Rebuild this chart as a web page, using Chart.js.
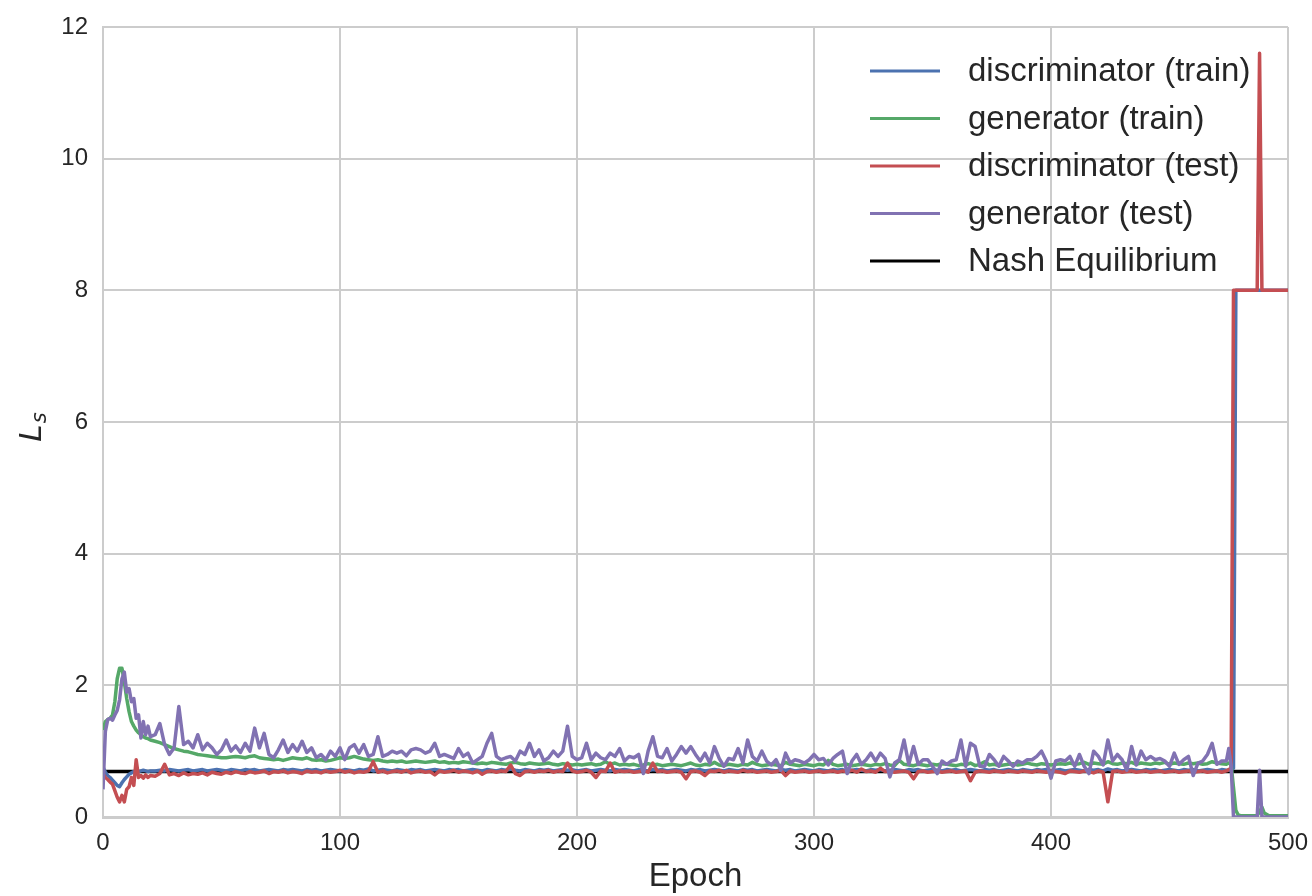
<!DOCTYPE html>
<html>
<head>
<meta charset="utf-8">
<title>GAN losses</title>
<script src="https://cdn.jsdelivr.net/npm/chart.js@4.4.1/dist/chart.umd.min.js"></script>
<style>
  html, body { margin: 0; padding: 0; background: #ffffff; }
  #wrap { width: 1312px; height: 896px; position: relative; }
</style>
</head>
<body>
<div id="wrap"><canvas id="grafico"></canvas></div>
<script>
// --- epochs (x) : head every epoch, body every 2 epochs, tail around the collapse ---
const epochsHead = [0,1,2,3,4,5,6,7,8,9,10,11,12,13,14,15,16,17,18,19,20];
const epochsBody = [
  22,24,26,28,30,32,34,36,38,40,
  42,44,46,48,50,52,54,56,58,60,
  62,64,66,68,70,72,74,76,78,80,
  82,84,86,88,90,92,94,96,98,100,
  102,104,106,108,110,112,114,116,118,120,
  122,124,126,128,130,132,134,136,138,140,
  142,144,146,148,150,152,154,156,158,160,
  162,164,166,168,170,172,174,176,178,180,
  182,184,186,188,190,192,194,196,198,200,
  202,204,206,208,210,212,214,216,218,220,
  222,224,226,228,230,232,234,236,238,240,
  242,244,246,248,250,252,254,256,258,260,
  262,264,266,268,270,272,274,276,278,280,
  282,284,286,288,290,292,294,296,298,300,
  302,304,306,308,310,312,314,316,318,320,
  322,324,326,328,330,332,334,336,338,340,
  342,344,346,348,350,352,354,356,358,360,
  362,364,366,368,370,372,374,376,378,380,
  382,384,386,388,390,392,394,396,398,400,
  402,404,406,408,410,412,414,416,418,420,
  422,424,426,428,430,432,434,436,438,440,
  442,444,446,448,450,452,454,456,458,460,
  462,464,466,468,470,472,474
];
const epochsTail = [475,476,477,478,479,480,482,484,486,487,488,489,490,492,494,496,498,500];

// discriminator (train)
const discTrainHead = [0.76,0.68,0.63,0.6,0.56,0.52,0.48,0.46,0.52,0.57,0.61,0.65,0.67,0.69,0.7,0.69,0.7,0.71,0.7,0.69,0.7];
const discTrainBody = [
  0.7,0.71,0.7,0.72,0.71,0.7,0.71,0.72,0.7,0.71,
  0.72,0.7,0.71,0.72,0.71,0.7,0.72,0.71,0.7,0.72,
  0.71,0.72,0.7,0.71,0.72,0.71,0.7,0.72,0.71,0.72,
  0.71,0.7,0.72,0.71,0.72,0.7,0.71,0.72,0.71,0.7,
  0.72,0.71,0.7,0.72,0.71,0.73,0.7,0.71,0.72,0.71,
  0.7,0.72,0.71,0.7,0.72,0.71,0.72,0.7,0.71,0.72,
  0.71,0.7,0.72,0.71,0.72,0.7,0.71,0.72,0.71,0.7,
  0.72,0.71,0.7,0.72,0.71,0.73,0.71,0.7,0.72,0.71,
  0.7,0.72,0.71,0.72,0.7,0.71,0.72,0.71,0.72,0.7,
  0.71,0.72,0.7,0.71,0.72,0.71,0.7,0.72,0.71,0.72,
  0.71,0.7,0.72,0.71,0.7,0.72,0.71,0.72,0.7,0.71,
  0.72,0.71,0.7,0.72,0.71,0.72,0.7,0.71,0.72,0.71,
  0.7,0.72,0.71,0.7,0.72,0.71,0.72,0.7,0.71,0.72,
  0.71,0.7,0.72,0.71,0.72,0.7,0.71,0.72,0.71,0.7,
  0.72,0.71,0.7,0.72,0.71,0.72,0.7,0.71,0.72,0.71,
  0.7,0.72,0.71,0.72,0.7,0.71,0.72,0.71,0.7,0.72,
  0.71,0.72,0.7,0.71,0.72,0.71,0.7,0.72,0.71,0.72,
  0.7,0.71,0.72,0.71,0.7,0.72,0.71,0.72,0.7,0.71,
  0.72,0.71,0.7,0.72,0.71,0.7,0.72,0.71,0.72,0.7,
  0.71,0.72,0.7,0.71,0.72,0.71,0.7,0.72,0.71,0.72,
  0.7,0.73,0.71,0.72,0.7,0.71,0.72,0.71,0.7,0.72,
  0.71,0.72,0.7,0.71,0.72,0.71,0.7,0.72,0.71,0.72,
  0.7,0.71,0.72,0.71,0.7,0.72,0.71
];
const discTrainTail = [0.71,0.72,0.74,8,8,8,8,8,8,8,8,8,8,8,8,8,8,8];

// generator (train)
const genTrainHead = [1.32,1.45,1.48,1.5,1.55,1.75,2.1,2.26,2.26,2.05,1.8,1.6,1.45,1.38,1.32,1.28,1.25,1.22,1.2,1.19,1.17];
const genTrainBody = [
  1.15,1.13,1.1,1.07,1.04,1.02,1.0,0.99,0.97,0.95,
  0.94,0.93,0.92,0.91,0.9,0.9,0.91,0.92,0.91,0.9,
  0.92,0.93,0.9,0.89,0.88,0.87,0.88,0.86,0.88,0.9,
  0.89,0.88,0.9,0.87,0.86,0.87,0.85,0.86,0.88,0.9,
  0.89,0.9,0.92,0.9,0.88,0.87,0.86,0.87,0.85,0.84,
  0.85,0.84,0.85,0.83,0.84,0.85,0.84,0.83,0.84,0.85,
  0.83,0.84,0.82,0.83,0.82,0.84,0.83,0.82,0.81,0.82,
  0.81,0.83,0.82,0.81,0.8,0.82,0.83,0.81,0.8,0.82,
  0.81,0.8,0.81,0.82,0.8,0.79,0.81,0.8,0.79,0.8,
  0.79,0.8,0.81,0.79,0.8,0.84,0.8,0.82,0.79,0.8,
  0.79,0.8,0.78,0.79,0.81,0.79,0.8,0.78,0.79,0.8,
  0.79,0.78,0.8,0.82,0.79,0.78,0.8,0.79,0.83,0.79,
  0.78,0.8,0.79,0.78,0.8,0.79,0.83,0.8,0.78,0.79,
  0.8,0.79,0.78,0.83,0.8,0.79,0.78,0.8,0.79,0.78,
  0.8,0.79,0.86,0.8,0.78,0.79,0.8,0.78,0.79,0.8,
  0.79,0.78,0.8,0.79,0.81,0.79,0.78,0.86,0.8,0.79,
  0.78,0.8,0.79,0.78,0.8,0.79,0.81,0.8,0.79,0.78,
  0.8,0.79,0.82,0.78,0.8,0.84,0.79,0.8,0.78,0.79,
  0.8,0.81,0.79,0.8,0.82,0.8,0.79,0.81,0.8,0.79,
  0.8,0.81,0.8,0.82,0.8,0.81,0.83,0.8,0.82,0.81,
  0.8,0.84,0.81,0.8,0.82,0.81,0.83,0.8,0.82,0.81,
  0.8,0.82,0.81,0.83,0.8,0.82,0.81,0.8,0.82,0.81,
  0.82,0.8,0.81,0.84,0.82,0.81,0.8
];
const genTrainTail = [0.82,0.8,0.45,0.1,0.03,0.02,0.02,0.02,0.02,0.02,0.08,0.15,0.06,0.02,0.02,0.02,0.02,0.02];

// discriminator (test)
const discTestHead = [0.66,0.6,0.57,0.53,0.5,0.4,0.3,0.23,0.33,0.23,0.42,0.46,0.6,0.48,0.87,0.6,0.63,0.59,0.64,0.6,0.63];
const discTestBody = [
  0.62,0.66,0.8,0.64,0.66,0.63,0.67,0.64,0.66,0.65,
  0.67,0.64,0.68,0.66,0.65,0.68,0.66,0.69,0.67,0.66,
  0.69,0.67,0.68,0.7,0.66,0.69,0.68,0.7,0.67,0.69,
  0.68,0.66,0.7,0.68,0.69,0.67,0.7,0.68,0.69,0.71,
  0.68,0.7,0.67,0.69,0.68,0.7,0.84,0.68,0.7,0.67,
  0.69,0.7,0.68,0.71,0.67,0.69,0.7,0.68,0.69,0.64,
  0.7,0.68,0.69,0.71,0.68,0.7,0.69,0.67,0.7,0.65,
  0.69,0.7,0.68,0.7,0.69,0.79,0.66,0.63,0.69,0.7,
  0.68,0.7,0.69,0.71,0.68,0.7,0.69,0.82,0.7,0.68,
  0.69,0.71,0.68,0.6,0.7,0.69,0.82,0.68,0.7,0.69,
  0.7,0.68,0.69,0.71,0.68,0.82,0.69,0.7,0.68,0.69,
  0.7,0.68,0.58,0.69,0.7,0.68,0.63,0.7,0.69,0.71,
  0.68,0.7,0.69,0.68,0.71,0.69,0.7,0.68,0.69,0.7,
  0.68,0.69,0.71,0.63,0.7,0.68,0.69,0.7,0.68,0.69,
  0.7,0.68,0.69,0.7,0.68,0.7,0.69,0.71,0.68,0.73,
  0.69,0.7,0.68,0.74,0.69,0.7,0.68,0.69,0.7,0.68,
  0.58,0.69,0.7,0.68,0.69,0.7,0.68,0.69,0.7,0.68,
  0.69,0.7,0.55,0.68,0.7,0.69,0.68,0.7,0.69,0.68,
  0.7,0.69,0.68,0.7,0.69,0.68,0.7,0.69,0.68,0.7,
  0.69,0.68,0.66,0.7,0.69,0.68,0.7,0.69,0.67,0.7,
  0.68,0.23,0.69,0.7,0.68,0.69,0.7,0.68,0.69,0.7,
  0.68,0.69,0.7,0.68,0.69,0.7,0.68,0.69,0.7,0.68,
  0.69,0.7,0.68,0.69,0.7,0.68,0.7
];
const discTestTail = [0.72,0.74,8,8,8,8,8,8,8,8,11.6,8,8,8,8,8,8,8];

// generator (test)
const genTestHead = [0.42,1.3,1.48,1.5,1.47,1.55,1.62,1.78,2.1,2.2,1.9,1.95,1.75,1.8,1.5,1.55,1.2,1.45,1.25,1.38,1.22];
const genTestBody = [
  1.25,1.42,1.1,0.95,1.05,1.68,1.1,1.15,1.05,1.25,
  1.02,1.12,1.05,0.95,1.02,1.17,1.0,1.08,0.98,1.12,
  1.0,1.35,1.05,1.27,0.95,0.9,1.02,1.17,0.98,1.1,
  1.0,1.15,0.98,1.05,0.9,0.95,0.87,1.0,0.92,1.05,
  0.87,1.05,1.1,0.97,1.1,0.92,0.95,1.22,0.92,0.95,
  1.0,0.97,1.0,0.93,1.02,1.04,1.02,0.97,1.0,1.12,
  0.92,0.95,0.92,0.89,1.04,0.92,0.97,0.82,0.87,0.92,
  1.12,1.27,0.92,0.87,0.9,0.92,0.85,1.0,0.95,1.12,
  0.92,1.02,0.85,0.9,1.0,0.92,1.0,1.38,0.92,0.87,
  0.9,1.12,0.87,0.97,0.9,0.87,0.97,0.92,1.04,0.85,
  0.92,0.9,0.95,0.66,1.0,1.22,0.92,0.9,1.04,0.85,
  0.95,1.07,0.97,1.07,0.95,0.85,0.97,0.82,1.07,0.89,
  0.77,0.89,0.87,1.04,0.82,1.17,0.92,0.85,1.0,0.85,
  0.79,0.87,0.71,0.97,0.82,0.87,0.85,0.82,0.87,0.95,
  0.87,0.89,0.79,0.89,0.95,1.0,0.66,0.85,0.95,0.8,
  0.87,0.97,0.85,0.97,0.89,0.61,0.82,0.87,1.17,0.8,
  1.07,0.8,0.87,0.87,0.77,0.66,0.85,0.8,0.85,0.87,
  1.17,0.77,1.12,1.07,0.77,0.77,0.95,0.87,0.77,0.92,
  0.85,0.77,0.85,0.82,0.87,0.87,0.92,1.0,0.85,0.59,
  0.85,0.87,0.85,0.92,0.77,0.95,0.77,0.66,1.0,0.92,
  0.79,1.17,0.85,0.95,0.87,0.71,1.07,0.79,1.0,0.87,
  0.92,0.87,0.89,0.85,0.77,0.97,0.8,0.87,0.92,0.63,
  0.82,0.85,0.95,1.12,0.8,0.85,0.85
];
const genTestTail = [1.04,0.78,0,0,0,0,0,0,0,0,0.71,0,0,0,0,0,0,0];

// Nash equilibrium (ln 2)
const nashLevel = 0.693;
const nashSpan = [0, 500];

const xTicks = [0, 100, 200, 300, 400, 500];
const yTicks = [0, 2, 4, 6, 8, 10, 12];

const epochs = [...epochsHead, ...epochsBody, ...epochsTail];

function juntar(head, body, tail) {
    const ys = [...head, ...body, ...tail];
    if (ys.length !== epochs.length) console.warn('tamanho diferente', ys.length, epochs.length);
    return epochs.map((x, i) => ({ x: x, y: ys[i] }));
}

const corTexto = '#262626';
const corGrade = '#cccccc';
const fonte = '"Liberation Sans", Arial, sans-serif';

// legenda e títulos desenhados à mão, dentro da área do gráfico
const overlay = {
    id: 'overlay',
    afterDraw(chart) {
        const ctx = chart.ctx;
        const area = chart.chartArea;
        ctx.save();

        // legenda
        ctx.font = '33px ' + fonte;
        ctx.textBaseline = 'middle';
        ctx.textAlign = 'left';
        chart.data.datasets.forEach((ds, i) => {
            const y = 71 + i * 47.5;
            ctx.strokeStyle = ds.borderColor;
            ctx.lineWidth = 3;
            ctx.beginPath();
            ctx.moveTo(870, y);
            ctx.lineTo(940, y);
            ctx.stroke();
            ctx.fillStyle = corTexto;
            ctx.fillText(ds.label, 968, y + 1);
        });

        // título eixo x
        ctx.font = '33px ' + fonte;
        ctx.textAlign = 'center';
        ctx.fillText('Epoch', (area.left + area.right) / 2, 877);

        // título eixo y: L com índice s
        ctx.translate(41, 428);
        ctx.rotate(-Math.PI / 2);
        ctx.textAlign = 'left';
        ctx.textBaseline = 'alphabetic';
        ctx.font = 'italic 31px "DejaVu Sans", sans-serif';
        const wL = ctx.measureText('L').width;
        ctx.fillText('L', -wL / 2 - 5, 0);
        ctx.font = 'italic 21px "DejaVu Sans", sans-serif';
        ctx.fillText('s', wL / 2 - 4, 5);

        ctx.restore();
    }
};

const ctx = document.getElementById('grafico').getContext('2d');
window.lossChart = new Chart(ctx, {
    type: 'line',
    data: {
        datasets: [
            { label: 'discriminator (train)', data: juntar(discTrainHead, discTrainBody, discTrainTail), borderColor: '#4C72B0', order: 4 },
            { label: 'generator (train)', data: juntar(genTrainHead, genTrainBody, genTrainTail), borderColor: '#55A868', order: 3 },
            { label: 'discriminator (test)', data: juntar(discTestHead, discTestBody, discTestTail), borderColor: '#C44E52', order: 2 },
            { label: 'generator (test)', data: juntar(genTestHead, genTestBody, genTestTail), borderColor: '#8172B2', order: 1 },
            { label: 'Nash Equilibrium', data: nashSpan.map(x => ({ x: x, y: nashLevel })), borderColor: '#000000', order: 5 }
        ]
    },
    options: {
        responsive: true, maintainAspectRatio: false, animation: false,
        layout: { padding: { top: 27, right: 24, left: 0, bottom: 0 } },
        plugins: { legend: { display: false }, tooltip: { enabled: false } },
        elements: {
            point: { radius: 0 },
            line: { tension: 0, borderWidth: 3.5, borderJoinStyle: 'round', borderCapStyle: 'butt' }
        },
        scales: {
            x: {
                type: 'linear', min: 0, max: 500,
                afterBuildTicks: s => { s.ticks = xTicks.map(v => ({ value: v })); },
                afterFit: s => { s.height = 79; s.paddingLeft = 0; s.paddingRight = 0; },
                ticks: { color: corTexto, font: { family: fonte, size: 24 }, padding: 12, maxRotation: 0 },
                grid: { color: corGrade, lineWidth: 2, drawTicks: false },
                border: { color: corGrade, width: 3 }
            },
            y: {
                type: 'linear', min: 0, max: 12,
                afterBuildTicks: s => { s.ticks = yTicks.map(v => ({ value: v })); },
                afterFit: s => { s.width = 103; s.paddingTop = 0; s.paddingBottom = 0; },
                ticks: { color: corTexto, font: { family: fonte, size: 24 }, padding: 15 },
                grid: { color: corGrade, lineWidth: 2, drawTicks: false },
                border: { color: corGrade, width: 2 }
            }
        }
    },
    plugins: [overlay]
});
</script>
</body>
</html>
